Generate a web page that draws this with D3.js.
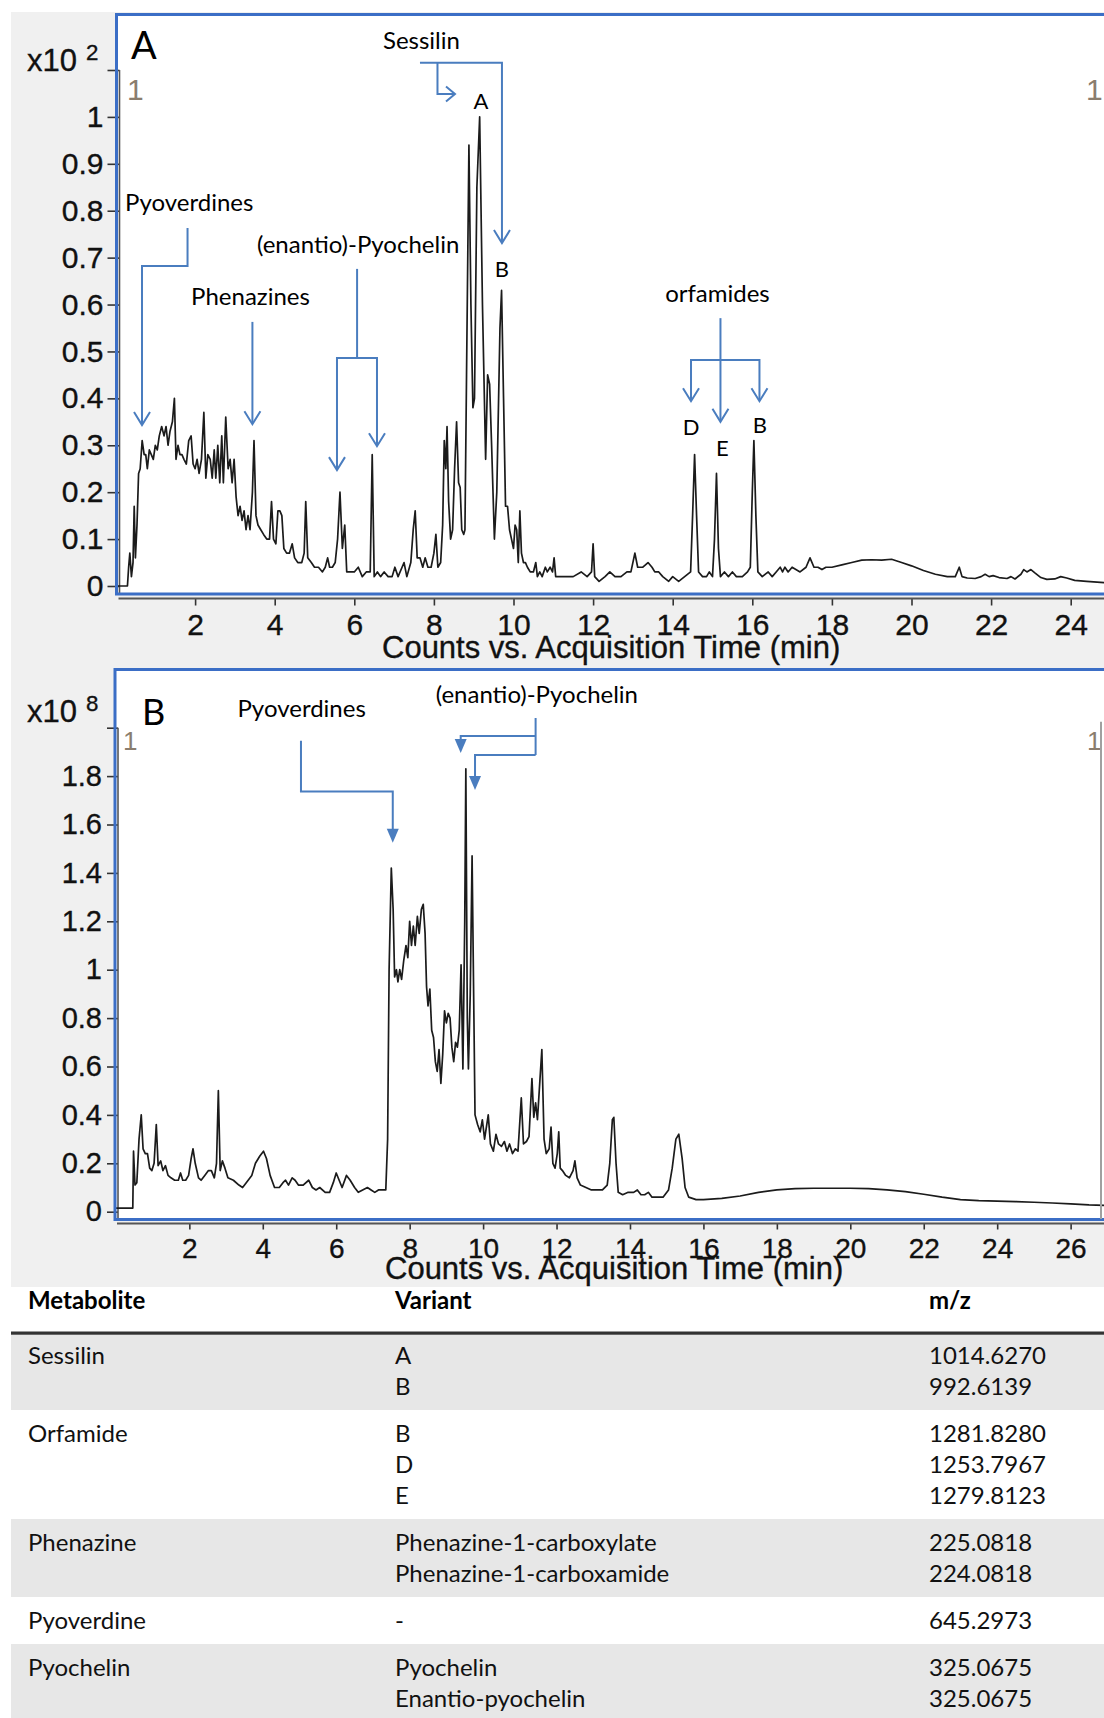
<!DOCTYPE html>
<html>
<head>
<meta charset="utf-8">
<script src="https://cdn.jsdelivr.net/npm/d3@7"></script>
<style>
  html, body { margin: 0; padding: 0; background: #fff; }
  svg { display: block; }
</style>
</head>
<body>
<svg id="fig" width="1104" height="1718"></svg>
<script>
// ---------- chromatogram A: [retention time (min), counts x10^2] ----------
const traceA = [
  [0,0],[0.30,0],[0.33,0.04],[0.36,0.07],[0.40,0.02],[0.44,0.05],[0.47,0.17],[0.50,0.06],[0.54,0.13],[0.58,0.24],
  [0.62,0.25],[0.67,0.31],[0.72,0.28],[0.76,0.28],[0.80,0.25],[0.85,0.29],[0.90,0.28],[0.95,0.27],[1.00,0.30],[1.05,0.29],
  [1.10,0.32],[1.16,0.34],[1.22,0.32],[1.27,0.34],[1.32,0.30],[1.37,0.33],[1.43,0.35],[1.48,0.40],[1.52,0.27],[1.57,0.30],
  [1.62,0.28],[1.67,0.28],[1.72,0.27],[1.78,0.26],[1.84,0.31],[1.90,0.32],[1.95,0.26],[2.00,0.25],[2.05,0.27],[2.10,0.24],
  [2.16,0.27],[2.22,0.37],[2.27,0.23],[2.32,0.28],[2.38,0.27],[2.43,0.23],[2.48,0.29],[2.52,0.23],[2.57,0.30],[2.62,0.22],
  [2.67,0.32],[2.71,0.22],[2.77,0.36],[2.83,0.25],[2.88,0.27],[2.93,0.22],[2.98,0.27],[3.03,0.19],[3.08,0.15],[3.13,0.17],
  [3.18,0.14],[3.23,0.16],[3.28,0.12],[3.33,0.15],[3.38,0.12],[3.44,0.20],[3.48,0.31],[3.53,0.15],[3.58,0.13],[3.65,0.12],
  [3.72,0.11],[3.80,0.10],[3.87,0.10],[3.92,0.18],[3.97,0.10],[4.03,0.09],[4.08,0.16],[4.13,0.16],[4.18,0.15],[4.23,0.08],
  [4.30,0.07],[4.37,0.07],[4.44,0.09],[4.50,0.06],[4.58,0.05],[4.68,0.05],[4.74,0.07],[4.78,0.18],[4.83,0.06],[4.92,0.05],
  [5.00,0.04],[5.10,0.04],[5.20,0.03],[5.27,0.04],[5.33,0.06],[5.38,0.04],[5.45,0.04],[5.52,0.05],[5.58,0.10],[5.64,0.20],
  [5.70,0.08],[5.76,0.13],[5.81,0.03],[5.90,0.03],[6.00,0.03],[6.10,0.04],[6.20,0.02],[6.30,0.03],[6.40,0.03],[6.45,0.28],
  [6.50,0.02],[6.58,0.03],[6.66,0.02],[6.75,0.03],[6.85,0.02],[6.95,0.02],[7.02,0.04],[7.10,0.02],[7.20,0.04],[7.25,0.05],
  [7.32,0.02],[7.42,0.05],[7.48,0.12],[7.53,0.16],[7.58,0.06],[7.65,0.06],[7.72,0.04],[7.78,0.06],[7.85,0.04],[7.93,0.04],
  [8.00,0.07],[8.05,0.11],[8.10,0.04],[8.17,0.05],[8.22,0.13],[8.26,0.31],[8.30,0.25],[8.33,0.34],[8.37,0.18],[8.42,0.10],
  [8.47,0.12],[8.52,0.25],[8.57,0.35],[8.62,0.22],[8.66,0.21],[8.70,0.12],[8.75,0.11],[8.78,0.12],[8.82,0.45],[8.88,0.94],
  [8.93,0.60],[8.98,0.38],[9.02,0.40],[9.08,0.85],[9.15,1.00],[9.22,0.60],[9.30,0.27],[9.35,0.45],[9.40,0.43],[9.45,0.30],
  [9.52,0.10],[9.58,0.20],[9.66,0.55],[9.70,0.63],[9.75,0.40],[9.80,0.17],[9.85,0.17],[9.90,0.12],[9.95,0.10],[10.00,0.08],
  [10.04,0.13],[10.08,0.12],[10.12,0.05],[10.16,0.16],[10.20,0.07],[10.25,0.05],[10.30,0.05],[10.35,0.04],[10.42,0.03],[10.50,0.03],
  [10.56,0.05],[10.60,0.02],[10.66,0.03],[10.72,0.02],[10.80,0.04],[10.85,0.03],[10.92,0.04],[10.98,0.03],[11.02,0.06],[11.06,0.02],
  [11.15,0.02],[11.30,0.02],[11.50,0.02],[11.70,0.03],[11.85,0.02],[11.96,0.03],[12.00,0.09],[12.04,0.02],[12.15,0.01],[12.30,0.02],
  [12.42,0.03],[12.55,0.02],[12.70,0.02],[12.85,0.03],[12.95,0.03],[13.05,0.07],[13.12,0.04],[13.25,0.04],[13.38,0.05],[13.48,0.04],
  [13.55,0.03],[13.65,0.03],[13.75,0.02],[13.90,0.01],[14.00,0.02],[14.15,0.01],[14.30,0.02],[14.45,0.03],[14.50,0.15],[14.55,0.28],
  [14.60,0.15],[14.65,0.03],[14.75,0.02],[14.85,0.02],[14.92,0.03],[15.00,0.02],[15.05,0.10],[15.10,0.24],[15.15,0.08],[15.20,0.02],
  [15.30,0.03],[15.40,0.02],[15.50,0.03],[15.60,0.02],[15.75,0.02],[15.88,0.03],[15.95,0.04],[16.00,0.20],[16.04,0.31],[16.09,0.15],
  [16.14,0.03],[16.25,0.02],[16.40,0.03],[16.50,0.02],[16.60,0.03],[16.70,0.04],[16.76,0.03],[16.82,0.04],[16.90,0.03],[17.00,0.04],
  [17.20,0.03],[17.35,0.04],[17.45,0.06],[17.55,0.04],[17.65,0.04],[17.75,0.035],[17.85,0.04],[18.00,0.04],[18.25,0.045],[18.50,0.05],
  [18.75,0.055],[19.00,0.056],[19.25,0.055],[19.50,0.057],[19.75,0.05],[20.00,0.043],[20.30,0.033],[20.60,0.025],[20.90,0.02],[21.10,0.02],
  [21.20,0.04],[21.27,0.02],[21.40,0.017],[21.60,0.016],[21.75,0.02],[21.85,0.025],[21.95,0.02],[22.05,0.022],[22.20,0.018],[22.40,0.016],
  [22.50,0.02],[22.60,0.015],[22.75,0.025],[22.82,0.035],[22.90,0.03],[23.00,0.035],[23.10,0.028],[23.25,0.018],[23.40,0.014],[23.60,0.015],
  [23.75,0.02],[23.90,0.017],[24.10,0.012],[24.40,0.01],[24.90,0.007]
];

// ---------- chromatogram B: [retention time (min), counts x10^8] ----------
const traceB = [
  [0,0.015],[0.46,0.015],[0.48,0.25],[0.52,0.11],[0.57,0.12],[0.63,0.30],[0.69,0.40],[0.74,0.26],[0.80,0.24],[0.86,0.24],
  [0.92,0.18],[0.98,0.17],[1.04,0.20],[1.10,0.36],[1.15,0.19],[1.22,0.21],[1.28,0.17],[1.35,0.19],[1.42,0.15],[1.50,0.14],
  [1.60,0.13],[1.70,0.13],[1.76,0.16],[1.82,0.13],[1.90,0.13],[1.98,0.15],[2.05,0.22],[2.10,0.26],[2.16,0.20],[2.25,0.14],
  [2.32,0.13],[2.42,0.15],[2.52,0.17],[2.60,0.17],[2.68,0.14],[2.74,0.20],[2.79,0.50],[2.84,0.17],[2.90,0.21],[2.97,0.18],
  [3.05,0.14],[3.20,0.13],[3.35,0.11],[3.45,0.10],[3.55,0.12],[3.70,0.15],[3.80,0.20],[3.92,0.23],[4.02,0.25],[4.10,0.22],
  [4.20,0.15],[4.32,0.10],[4.45,0.10],[4.55,0.12],[4.62,0.13],[4.70,0.11],[4.80,0.14],[4.88,0.13],[4.97,0.11],[5.10,0.11],
  [5.25,0.13],[5.35,0.10],[5.45,0.09],[5.55,0.10],[5.70,0.08],[5.82,0.08],[5.92,0.12],[6.00,0.16],[6.08,0.13],[6.16,0.10],
  [6.28,0.15],[6.38,0.13],[6.50,0.10],[6.60,0.08],[6.72,0.09],[6.85,0.10],[6.95,0.09],[7.05,0.08],[7.15,0.09],[7.25,0.09],
  [7.35,0.09],[7.40,0.30],[7.44,1.00],[7.50,1.42],[7.55,1.25],[7.59,0.97],[7.64,1.00],[7.68,0.95],[7.73,1.00],[7.78,0.96],
  [7.84,1.04],[7.90,1.10],[7.95,1.05],[8.00,1.20],[8.05,1.10],[8.10,1.18],[8.15,1.10],[8.21,1.22],[8.26,1.15],[8.32,1.25],
  [8.37,1.27],[8.42,1.15],[8.46,0.93],[8.50,0.85],[8.55,0.92],[8.60,0.75],[8.65,0.72],[8.70,0.62],[8.75,0.58],[8.80,0.67],
  [8.85,0.53],[8.90,0.65],[8.95,0.83],[9.00,0.78],[9.05,0.82],[9.10,0.80],[9.15,0.68],[9.20,0.62],[9.25,0.70],[9.30,0.68],
  [9.35,0.75],[9.40,1.02],[9.45,0.59],[9.50,1.20],[9.53,1.83],[9.57,0.80],[9.60,0.59],[9.65,0.90],[9.70,1.47],[9.75,0.80],
  [9.78,0.40],[9.85,0.36],[9.92,0.33],[9.98,0.38],[10.04,0.30],[10.10,0.36],[10.14,0.40],[10.20,0.28],[10.28,0.25],[10.35,0.32],
  [10.42,0.28],[10.50,0.27],[10.58,0.29],[10.65,0.25],[10.72,0.28],[10.80,0.24],[10.88,0.26],[10.95,0.25],[11.04,0.47],[11.10,0.28],
  [11.18,0.29],[11.25,0.31],[11.33,0.55],[11.38,0.39],[11.43,0.45],[11.48,0.38],[11.55,0.55],[11.60,0.67],[11.66,0.30],[11.72,0.24],
  [11.80,0.26],[11.85,0.35],[11.90,0.20],[11.96,0.18],[12.02,0.24],[12.06,0.33],[12.10,0.18],[12.16,0.17],[12.25,0.15],[12.35,0.14],
  [12.45,0.17],[12.50,0.21],[12.56,0.14],[12.65,0.11],[12.80,0.10],[12.95,0.09],[13.10,0.09],[13.25,0.09],[13.38,0.11],[13.45,0.20],
  [13.52,0.38],[13.56,0.39],[13.62,0.20],[13.68,0.08],[13.80,0.07],[13.95,0.08],[14.10,0.08],[14.20,0.09],[14.30,0.07],[14.40,0.07],
  [14.50,0.08],[14.60,0.06],[14.75,0.06],[14.90,0.06],[15.05,0.09],[15.15,0.18],[15.25,0.30],[15.33,0.32],[15.42,0.22],[15.50,0.10],
  [15.60,0.06],[15.80,0.05],[16.00,0.05],[16.50,0.055],[17.00,0.065],[17.50,0.08],[18.00,0.09],[18.50,0.095],[19.00,0.097],[19.50,0.097],
  [20.00,0.097],[20.50,0.095],[21.00,0.09],[21.50,0.083],[22.00,0.072],[22.50,0.06],[23.00,0.05],[23.50,0.046],[24.00,0.044],[24.50,0.042],
  [25.00,0.039],[25.50,0.036],[26.00,0.032],[26.50,0.028],[27.00,0.026]
];

// ---------- axis ticks ----------
const yTicksA = [0, 0.1, 0.2, 0.3, 0.4, 0.5, 0.6, 0.7, 0.8, 0.9, 1];
const yTickLabelsA = ["0", "0.1", "0.2", "0.3", "0.4", "0.5", "0.6", "0.7", "0.8", "0.9", "1"];
const xTicksA = [2, 4, 6, 8, 10, 12, 14, 16, 18, 20, 22, 24];
const yTicksB = [0, 0.2, 0.4, 0.6, 0.8, 1, 1.2, 1.4, 1.6, 1.8];
const yTickLabelsB = ["0", "0.2", "0.4", "0.6", "0.8", "1", "1.2", "1.4", "1.6", "1.8"];
const xTicksB = [2, 4, 6, 8, 10, 12, 14, 16, 18, 20, 22, 24, 26];
const xTitle = "Counts vs. Acquisition Time (min)";

// ---------- metabolite table ----------
const tableHeader = ["Metabolite", "Variant", "m/z"];
const metabolites = ["Sessilin", "Orfamide", "Phenazine", "Pyoverdine", "Pyochelin"];
const variants = [
  ["A", "B"],
  ["B", "D", "E"],
  ["Phenazine-1-carboxylate", "Phenazine-1-carboxamide"],
  ["-"],
  ["Pyochelin", "Enantio-pyochelin"]
];
const mzValues = [
  ["1014.6270", "992.6139"],
  ["1281.8280", "1253.7967", "1279.8123"],
  ["225.0818", "224.0818"],
  ["645.2973"],
  ["325.0675", "325.0675"]
];

// ---------- drawing ----------
const svg = d3.select("#fig");
const W = 1104;
const AXIS_FONT = "'Liberation Sans', Arial, sans-serif";
const NOTE_FONT = "Lato, 'Open Sans', sans-serif";
const FRAME_BLUE = "#3b6ec6";
const NOTE_BLUE = "#4a7dbf";
const TRACE = "#1b1b1b";
const AXIS_INK = "#333";

// grey window background behind both chromatograms
svg.append("rect").attr("x", 11).attr("y", 12).attr("width", W - 11).attr("height", 1287 - 12)
  .attr("fill", "#f0f0f0");

// axis-style text (slightly heavy, like the instrument software rendering)
function axisText(sel, size) {
  return sel.attr("font-family", AXIS_FONT).attr("font-size", size).attr("fill", "#111")
    .attr("stroke", "#111").attr("stroke-width", 0.35);
}

function drawPanel(p) {
  const g = svg.append("g");
  const clipId = "clip" + p.key;
  g.append("clipPath").attr("id", clipId).append("rect")
    .attr("x", p.frame.x).attr("y", p.frame.y)
    .attr("width", W - p.frame.x + 10).attr("height", p.frame.bottom - p.frame.y);

  // white plot area
  g.append("rect").attr("x", p.frame.x).attr("y", p.frame.y)
    .attr("width", W - p.frame.x + 10).attr("height", p.frame.bottom - p.frame.y)
    .attr("fill", "#fff");

  // y axis
  const yAxis = d3.axisLeft(p.y)
    .tickValues(p.yTicks.concat([p.yTop]))
    .tickFormat(d => { const i = p.yTicks.indexOf(d); return i < 0 ? "" : p.yLabels[i]; })
    .tickSize(p.yTickLen).tickPadding(p.yPad);
  const ya = g.append("g").attr("transform", `translate(${p.yAxisX},0)`).call(yAxis);
  ya.select(".domain").remove();
  ya.selectAll("line").attr("stroke", AXIS_INK).attr("stroke-width", 1.6);
  axisText(ya.selectAll("text"), p.yFont);
  g.append("line").attr("x1", p.yAxisX).attr("x2", p.yAxisX)
    .attr("y1", p.y(p.yTop)).attr("y2", p.frame.bottom)
    .attr("stroke", "#555").attr("stroke-width", 1.6);

  // x axis
  const xAxis = d3.axisBottom(p.x).tickValues(p.xTicks).tickFormat(d3.format("d"))
    .tickSizeInner(p.xTickLen).tickSizeOuter(0).tickPadding(p.xPad);
  const xa = g.append("g").attr("transform", `translate(0,${p.xAxisY})`).call(xAxis);
  xa.select(".domain").remove();
  xa.selectAll("line").attr("stroke", AXIS_INK).attr("stroke-width", 1.6);
  axisText(xa.selectAll("text"), p.xFont);
  g.append("line").attr("x1", p.frame.x + 2).attr("x2", W)
    .attr("y1", p.xAxisY).attr("y2", p.xAxisY)
    .attr("stroke", "#555").attr("stroke-width", 1.8);

  // axis title
  axisText(g.append("text").attr("x", p.titleX).attr("y", p.titleY), p.titleFont).text(xTitle);

  // chromatogram trace
  const line = d3.line().x(d => p.x(d[0])).y(d => p.y(d[1]));
  g.append("path").datum(p.trace).attr("d", line)
    .attr("clip-path", `url(#${clipId})`)
    .attr("fill", "none").attr("stroke", TRACE).attr("stroke-width", 1.7)
    .attr("stroke-linejoin", "round");

  // blue window frame
  g.append("path")
    .attr("d", `M${W + 5},${p.frame.y} H${p.frame.x} V${p.frame.bottom} H${W + 5}`)
    .attr("fill", "none").attr("stroke", FRAME_BLUE).attr("stroke-width", 3);

  // scale exponent label
  const ex = axisText(g.append("text").attr("x", 27).attr("y", p.expY), p.expFont);
  ex.append("tspan").text("x10");
  ex.append("tspan").attr("dx", 9).attr("dy", -11).attr("font-size", p.expFont * 0.72).text(p.exponent);

  // panel letter
  g.append("text").attr("x", p.letterX).attr("y", p.letterY)
    .attr("font-family", NOTE_FONT).attr("font-size", p.letterFont).attr("fill", "#000")
    .text(p.letter);

  // trace index markers
  [p.idxLeftX, p.idxRightX].forEach(x => {
    g.append("text").attr("x", x).attr("y", p.idxY)
      .attr("font-family", AXIS_FONT).attr("font-size", p.idxFont).attr("fill", "#8a7d6e")
      .text("1");
  });
  return g;
}

// panel A
const xA = d3.scaleLinear().domain([0, 25]).range([115.5, 115.5 + 25 * 39.8]);
const yA = d3.scaleLinear().domain([0, 1.1]).range([586, 586 - 1.1 * 469.1]);
const gA = drawPanel({
  key: "A", x: xA, y: yA, trace: traceA,
  frame: { x: 116.5, y: 14.5, bottom: 594 },
  yTicks: yTicksA, yLabels: yTickLabelsA, yTop: 1.1, yAxisX: 119.5, yTickLen: 12, yPad: 4, yFont: 30,
  xTicks: xTicksA, xAxisY: 598.5, xTickLen: 7, xPad: 8, xFont: 30,
  titleX: 382, titleY: 658, titleFont: 31,
  exponent: "2", expY: 71, expFont: 31,
  letter: "A", letterX: 131, letterY: 59, letterFont: 38,
  idxLeftX: 127, idxRightX: 1086, idxY: 100, idxFont: 30
});

// panel B
const xB = d3.scaleLinear().domain([0, 27]).range([115.9, 115.9 + 27 * 36.72]);
const yB = d3.scaleLinear().domain([0, 2]).range([1211.7, 1211.7 - 2 * 242]);
const gB = drawPanel({
  key: "B", x: xB, y: yB, trace: traceB,
  frame: { x: 115, y: 669.5, bottom: 1219.5 },
  yTicks: yTicksB, yLabels: yTickLabelsB, yTop: 2, yAxisX: 118, yTickLen: 11, yPad: 5, yFont: 29,
  xTicks: xTicksB, xAxisY: 1223.5, xTickLen: 6, xPad: 9, xFont: 28,
  titleX: 385, titleY: 1279, titleFont: 31,
  exponent: "8", expY: 722, expFont: 31,
  letter: "B", letterX: 142, letterY: 725, letterFont: 36,
  idxLeftX: 123, idxRightX: 1087, idxY: 750, idxFont: 26
});
// right-hand axis edge of panel B
gB.append("line").attr("x1", 1101).attr("x2", 1101).attr("y1", yB(2) - 6).attr("y2", 1219)
  .attr("stroke", "#a0a0a0").attr("stroke-width", 2);

// ---------- peak annotations ----------
function notes(g, sx, sy) {
  const path = d3.line().x(d => sx(d[0])).y(d => sy(d[1]));
  return {
    line(pts) {
      g.append("path").attr("d", path(pts)).attr("fill", "none")
        .attr("stroke", NOTE_BLUE).attr("stroke-width", 2);
    },
    // open arrowhead, tip at data point
    open(t, v, dir) {
      const x = sx(t), y = sy(v);
      const d = dir === "right"
        ? `M${x - 9},${y - 7.5} L${x},${y} L${x - 9},${y + 7.5}`
        : `M${x - 8},${y - 13} L${x},${y} L${x + 8},${y - 13}`;
      g.append("path").attr("d", d).attr("fill", "none")
        .attr("stroke", NOTE_BLUE).attr("stroke-width", 2);
    },
    // filled arrowhead, tip at data point
    solid(t, v) {
      const x = sx(t), y = sy(v);
      g.append("path").attr("d", `M${x - 6},${y - 14} L${x + 6},${y - 14} L${x},${y} Z`)
        .attr("fill", NOTE_BLUE);
    },
    text(t, v, s, size, anchor) {
      g.append("text").attr("x", sx(t)).attr("y", sy(v))
        .attr("text-anchor", anchor || "start")
        .attr("font-family", NOTE_FONT).attr("font-size", size).attr("fill", "#000")
        .text(s);
    }
  };
}

const nA = notes(gA, xA, yA);
// Sessilin A / B
nA.text(6.72, 1.145, "Sessilin", 24);
nA.line([[7.65, 1.1155], [9.71, 1.1155], [9.71, 0.733]]);
nA.open(9.71, 0.731, "down");
nA.line([[8.09, 1.1155], [8.09, 1.049], [8.53, 1.049]]);
nA.open(8.53, 1.049, "right");
nA.text(9.18, 1.017, "A", 22, "middle");
nA.text(9.71, 0.659, "B", 22, "middle");
// Pyoverdines
nA.text(0.24, 0.80, "Pyoverdines", 24);
nA.line([[1.81, 0.763], [1.81, 0.682], [0.666, 0.682], [0.666, 0.345]]);
nA.open(0.666, 0.343, "down");
// Phenazines
nA.text(1.90, 0.599, "Phenazines", 24);
nA.line([[3.44, 0.563], [3.44, 0.347]]);
nA.open(3.44, 0.345, "down");
// (enantio)-Pyochelin
nA.text(3.555, 0.71, "(enantio)-Pyochelin", 24);
nA.line([[6.07, 0.676], [6.07, 0.486]]);
nA.line([[5.565, 0.249], [5.565, 0.486], [6.57, 0.486], [6.57, 0.300]]);
nA.open(5.565, 0.247, "down");
nA.open(6.57, 0.298, "down");
// orfamides D / E / B
nA.text(13.81, 0.605, "orfamides", 24);
nA.line([[15.20, 0.571], [15.20, 0.352]]);
nA.open(15.20, 0.350, "down");
nA.line([[14.46, 0.396], [14.46, 0.482], [16.18, 0.482], [16.18, 0.396]]);
nA.open(14.46, 0.394, "down");
nA.open(16.18, 0.394, "down");
nA.text(14.46, 0.322, "D", 22, "middle");
nA.text(15.25, 0.277, "E", 22, "middle");
nA.text(16.19, 0.326, "B", 22, "middle");

const nB = notes(gB, xB, yB);
// Pyoverdines
nB.text(3.31, 2.045, "Pyoverdines", 24);
nB.line([[5.04, 1.946], [5.04, 1.736], [7.54, 1.736], [7.54, 1.56]]);
nB.solid(7.54, 1.525);
// (enantio)-Pyochelin
nB.text(8.71, 2.102, "(enantio)-Pyochelin", 24);
nB.line([[11.43, 2.04], [11.43, 1.887]]);
nB.line([[11.43, 1.966], [9.39, 1.966], [9.39, 1.93]]);
nB.solid(9.39, 1.895);
nB.line([[11.43, 1.887], [9.78, 1.887], [9.78, 1.78]]);
nB.solid(9.78, 1.743);

// ---------- metabolite table ----------
const TABLE_FONT = "Lato, 'Open Sans', sans-serif";
const TABLE_SIZE = 24;
const colX = [28, 395, 929];
const tg = svg.append("g");
tableHeader.forEach((h, i) => {
  tg.append("text").attr("x", colX[i]).attr("y", 1309)
    .attr("font-family", TABLE_FONT).attr("font-size", TABLE_SIZE).attr("font-weight", 700).attr("fill", "#000")
    .text(h);
});
let bandTop = 1332;
const LINE = 31;
metabolites.forEach((m, gi) => {
  const n = variants[gi].length;
  const h = 16 + LINE * n;
  tg.append("rect").attr("x", 11).attr("y", bandTop).attr("width", W - 11).attr("height", h)
    .attr("fill", gi % 2 === 0 ? "#e7e7e7" : "#ffffff");
  const base = bandTop + 32;
  const cell = (x, y, s) => tg.append("text").attr("x", x).attr("y", y)
    .attr("font-family", TABLE_FONT).attr("font-size", TABLE_SIZE).attr("fill", "#111").text(s);
  cell(colX[0], base, m);
  variants[gi].forEach((v, i) => {
    cell(colX[1], base + LINE * i, v);
    cell(colX[2], base + LINE * i, mzValues[gi][i]);
  });
  bandTop += h;
});
// header rule
tg.append("rect").attr("x", 11).attr("y", 1331.5).attr("width", W - 11).attr("height", 3.2).attr("fill", "#333");
</script>
</body>
</html>
